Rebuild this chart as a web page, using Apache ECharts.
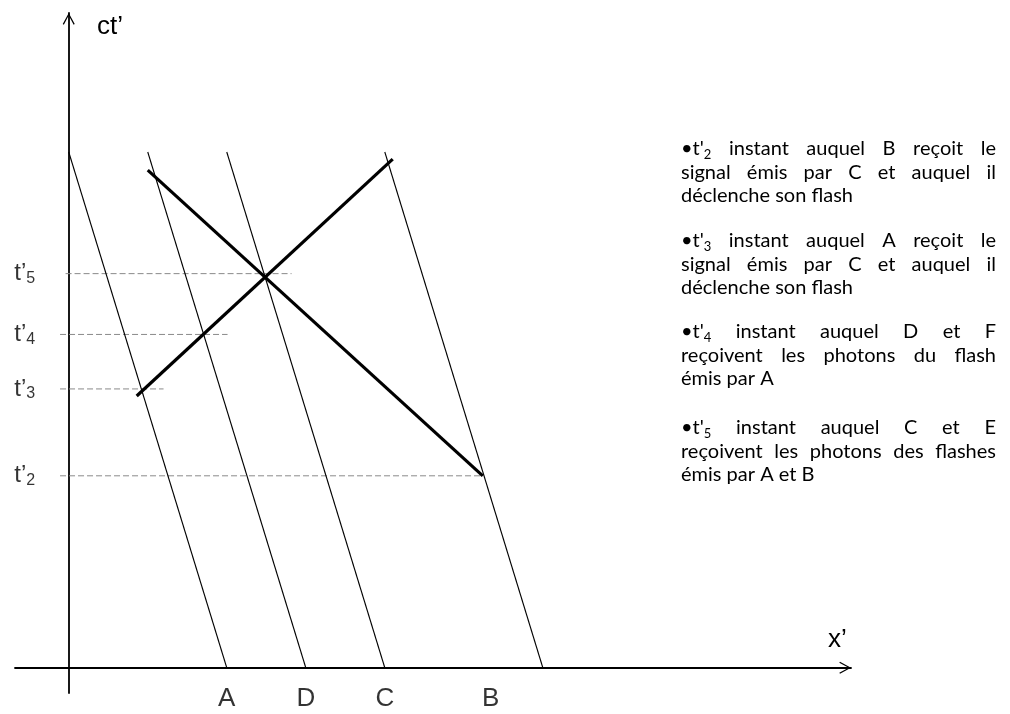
<!DOCTYPE html>
<html><head><meta charset="utf-8">
<script src="https://cdn.jsdelivr.net/npm/echarts@6/dist/echarts.min.js"></script>
<style>html,body{margin:0;padding:0;background:#fff}#c{width:1010px;height:714px}</style>
</head><body><div id="c"></div>
<script>
// ---- Data (x' unit = spacing between observers A and D) ----
const observers = ['A', 'D', 'C', 'B'];
const worldlineBottomX = [2, 3, 4, 6];      // x' where each worldline meets ct' = 0
const worldlineTopX = [0, 1, 2, 4];         // x' at the top of each worldline
const worldlineTopY = 6.53;                 // ct' at the top of the worldlines
const observerLabelX = [2, 3, 4, 5.34];     // where the letters sit under the x' axis
const timeNames = ['2', '3', '4', '5'];
const timeValues = [2.43, 3.53, 4.22, 4.99];       // t'2 .. t'5
const timeLineStartX = [-0.11, -0.11, -0.11, -0.04];
const timeLineEndX = [5.24, 1.20, 2.01, 2.82];
const flashB = [[1.00, 6.30], [5.24, 2.43]];      // photons from B's flash
const flashA = [[0.86, 3.44], [4.10, 6.44]];      // photons from A's flash
const axisXRange = [-0.68, 9.90];
const axisYRange = [-0.32, 8.29];
const noteSubs = ['2', '3', '4', '5'];
const noteLines = [
  ['instant auquel B reçoit le', 'signal émis par C et auquel il', 'déclenche son flash'],
  ['instant auquel A reçoit le', 'signal émis par C et auquel il', 'déclenche son flash'],
  ['instant auquel D et F', 'reçoivent les photons du flash', 'émis par A'],
  ['instant auquel C et E', 'reçoivent les photons des flashes', 'émis par A et B']
];

// ---- Style / layout ----
const FD = 'Liberation Sans, Arial, sans-serif';
const FN = 'Lato, Carlito, sans-serif';
const NOTE_SIZE = 20, NOTE_SUB = 13;
const NOTE_LEFT = 681, NOTE_RIGHT = 996, NOTE_LH = 23.5;
const NOTE_TOPS = [149, 241, 332, 428];

const chart = echarts.init(document.getElementById('c'));

const chevron = 'path://M6,0 L12,11 L10.9,11.7 L6,2.4 L1.1,11.7 L0,11 Z';
const axisCommon = {
  type: 'value',
  axisTick: {show: false},
  axisLabel: {show: false},
  splitLine: {show: false},
  axisLine: {
    show: true, onZero: true,
    symbol: ['none', chevron],
    symbolSize: [12, 11.7],
    symbolOffset: [0, -5.85],
    lineStyle: {color: '#000', width: 1.8}
  }
};

const series = [];
timeValues.forEach((t, i) => {
  series.push({
    type: 'line', z: 1, symbol: 'none', silent: true,
    data: [[timeLineStartX[i], t], [timeLineEndX[i], t]],
    lineStyle: {color: '#8a8a8a', width: 1, type: [6, 3]}
  });
});
observers.forEach((n, i) => {
  series.push({
    type: 'line', z: 2, symbol: 'none', silent: true,
    data: [[worldlineBottomX[i], 0], [worldlineTopX[i], worldlineTopY]],
    lineStyle: {color: '#000', width: 1.1}
  });
});
[flashB, flashA].forEach(d => {
  series.push({
    type: 'line', z: 3, symbol: 'none', silent: true, data: d,
    lineStyle: {color: '#000', width: 3.2}
  });
});
series.push({
  type: 'scatter', z: 4, symbolSize: 1, silent: true,
  itemStyle: {color: 'rgba(0,0,0,0)'},
  data: timeValues.map((t, i) => ({value: [0, t], name: timeNames[i]})),
  label: {
    show: true, position: 'left', distance: 33,
    formatter: p => 't’{s|' + p.name + '}',
    color: '#000', fontFamily: FD, fontSize: 24, lineHeight: 26,
    rich: {s: {color: '#000', fontFamily: FD, fontSize: 16, lineHeight: 12, verticalAlign: 'bottom'}}
  }
});
series.push({
  type: 'scatter', z: 4, symbolSize: 1, silent: true,
  itemStyle: {color: 'rgba(0,0,0,0)'},
  data: observers.map((n, i) => ({value: [observerLabelX[i], 0], name: n})),
  label: {
    show: true, position: 'bottom', distance: 18,
    formatter: p => p.name,
    color: '#000', fontFamily: FD, fontSize: 26
  }
});

// ---- justified notes ----
const ctx = document.createElement('canvas').getContext('2d');
function tw(s, size) { ctx.font = size + 'px ' + FN; return ctx.measureText(s).width; }
const graphics = [
  {type: 'text', x: 97, y: 27, style: {text: 'ct’', font: '26px ' + FD, fill: '#000', align: 'left', verticalAlign: 'middle'}},
  {type: 'text', x: 828, y: 640, style: {text: 'x’', font: '26px ' + FD, fill: '#000', align: 'left', verticalAlign: 'middle'}}
];
noteLines.forEach((lines, p) => {
  lines.forEach((line, li) => {
    const y = NOTE_TOPS[p] + li * NOTE_LH;
    const words = line.split(' ');
    const items = words.map(w => ({text: w, w: tw(w, NOTE_SIZE), rich: false}));
    if (li === 0) {
      items.unshift({text: "•t'{s|" + noteSubs[p] + '}', w: tw("•t'", NOTE_SIZE) + tw(noteSubs[p], NOTE_SUB), rich: true});
    }
    const isLast = li === lines.length - 1;
    const sum = items.reduce((a, b) => a + b.w, 0);
    const gap = isLast ? tw(' ', NOTE_SIZE) : (NOTE_RIGHT - NOTE_LEFT - sum) / (items.length - 1);
    let x = NOTE_LEFT;
    items.forEach(it => {
      const st = {text: it.text, fontSize: NOTE_SIZE, fontFamily: FN, fill: '#000', align: 'left', verticalAlign: 'middle', lineHeight: 24};
      if (it.rich) st.rich = {s: {fontSize: NOTE_SUB, fontFamily: FN, fill: '#000', lineHeight: 12, verticalAlign: 'bottom'}};
      graphics.push({type: 'text', x: x, y: y, style: st});
      x += it.w + gap;
    });
  });
});

chart.setOption({
  animation: false,
  backgroundColor: '#fff',
  grid: {left: 15, right: 159, top: 13, bottom: 21},
  xAxis: Object.assign({}, axisCommon, {min: axisXRange[0], max: axisXRange[1]}),
  yAxis: Object.assign({}, axisCommon, {min: axisYRange[0], max: axisYRange[1]}),
  series: series,
  graphic: graphics
});
</script>
</body></html>
